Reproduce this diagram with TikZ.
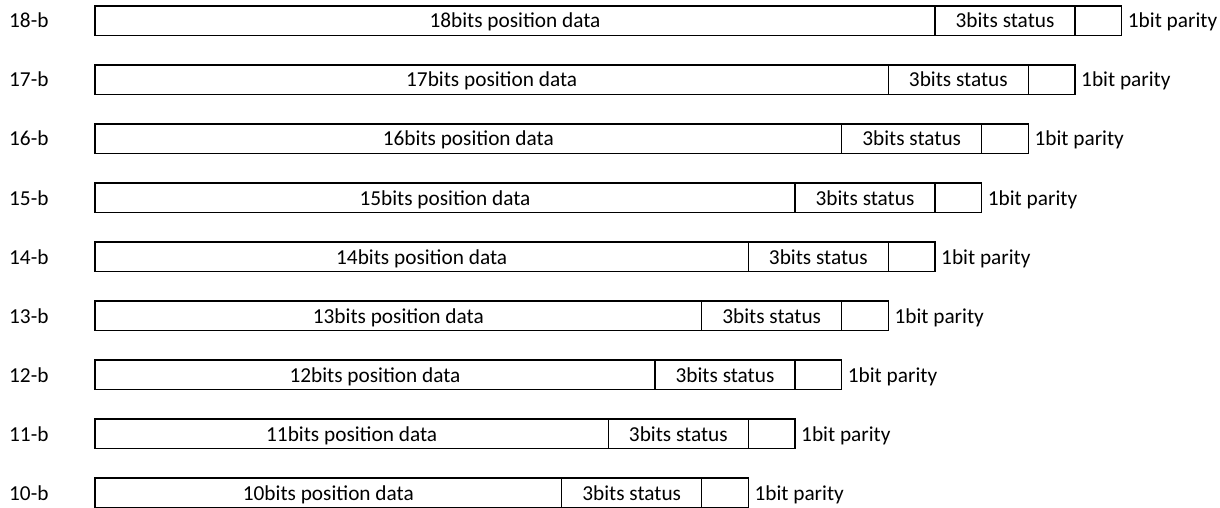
\documentclass[tikz,border=0pt]{standalone}
\usepackage{fontspec}
\setmainfont{Carlito}
\begin{document}
\begin{tikzpicture}[x=1pt,y=-1pt,
  txt/.style={font=\fontsize{21.3}{25}\selectfont, text height=16pt, text depth=1.5pt},
  cell/.style={txt, draw, line width=1.5pt, minimum height=29.5pt, inner sep=0pt, outer sep=0pt,
    anchor=west},
  lbl/.style={txt, anchor=west, inner sep=0pt}]
\useasboundingbox (0,0) rectangle (1220,508);
\foreach \n [count=\i from 0] in {18,17,16,15,14,13,12,11,10} {
  \pgfmathsetmacro\y{20.75+59*\i}
  \pgfmathsetmacro\w{46.667*\n}
  \node[cell, minimum width=\w pt] (pos\n) at (95,\y) {\n bits position data};
  \node[cell, minimum width=140pt] (st\n) at (pos\n.east) {3bits status};
  \node[cell, minimum width=46.67pt] (par\n) at (st\n.east) {};
  \node[lbl] (pl\n) at ([xshift=6pt]par\n.east) {1bit parity};
  \node[lbl] (rl\n) at (9,\y) {\n-b};
}
\end{tikzpicture}
\end{document}
